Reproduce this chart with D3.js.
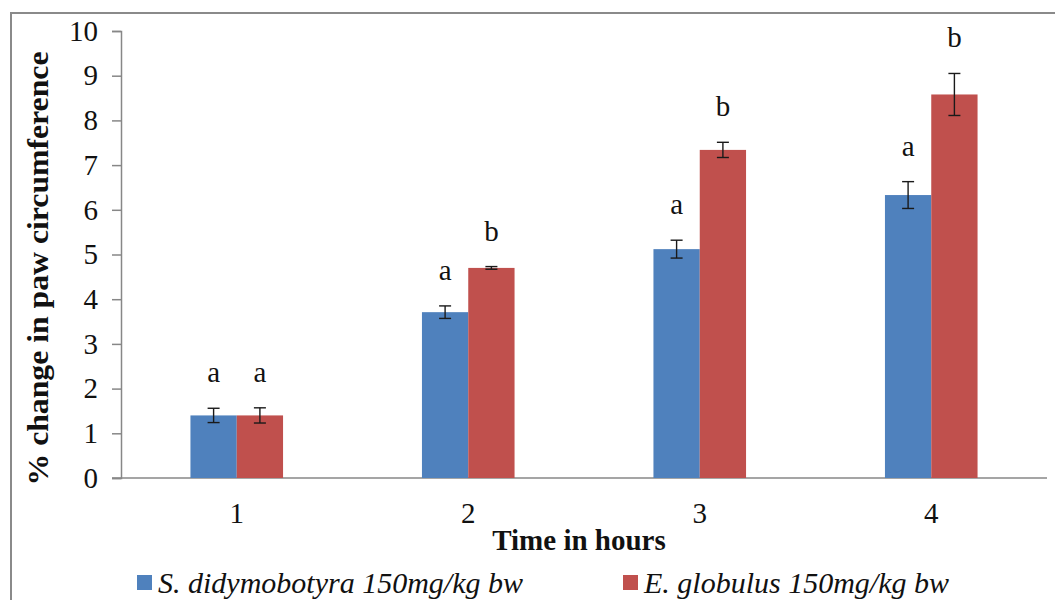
<!DOCTYPE html>
<html>
<head>
<meta charset="utf-8">
<script src="https://cdn.jsdelivr.net/npm/d3@7"></script>
<style>
  body { margin: 0; background: #fff; }
</style>
</head>
<body>
<div id="chart"></div>
<script>
// chart data
const hours = ["1", "2", "3", "4"];
const seriesNames = ["S. didymobotyra 150mg/kg bw", "E. globulus 150mg/kg bw"];
const seriesColors = ["#4F81BD", "#C0504D"];
const sdValues = [1.4, 3.71, 5.12, 6.33];
const sdErrors = [0.16, 0.14, 0.2, 0.3];
const sdLetters = ["a", "a", "a", "a"];
const egValues = [1.4, 4.7, 7.34, 8.58];
const egErrors = [0.17, 0.03, 0.17, 0.47];
const egLetters = ["a", "b", "b", "b"];
const yTicks = [0, 1, 2, 3, 4, 5, 6, 7, 8, 9, 10];

const serif = "'Liberation Serif', 'Times New Roman', serif";
const width = 1055, height = 600;
const margin = { top: 31, right: 8, bottom: 122, left: 121 };

const svg = d3.select("#chart").append("svg")
    .attr("width", width)
    .attr("height", height);

// outer frame (cut at right and bottom like the picture)
svg.append("rect")
    .attr("x", 11).attr("y", 13)
    .attr("width", width + 20).attr("height", height + 20)
    .attr("fill", "none")
    .attr("stroke", "#8a8a8a")
    .attr("stroke-width", 2);

const x0 = d3.scaleBand()
    .domain(hours)
    .range([margin.left, width - margin.right])
    .paddingInner(0.6)
    .paddingOuter(0.3);

const x1 = d3.scaleBand()
    .domain([0, 1])
    .range([0, x0.bandwidth()]);

const y = d3.scaleLinear()
    .domain([0, 10])
    .range([height - margin.bottom, margin.top]);

const rows = hours.map((h, i) => ({
    hour: h,
    bars: [
        { s: 0, v: sdValues[i], e: sdErrors[i], l: sdLetters[i] },
        { s: 1, v: egValues[i], e: egErrors[i], l: egLetters[i] }
    ]
}));

// y axis
const yAxis = svg.append("g")
    .attr("transform", `translate(${margin.left},0)`)
    .call(d3.axisLeft(y).tickValues(yTicks).tickSize(9).tickPadding(14).tickFormat(d3.format("d")));
yAxis.select(".domain").attr("stroke", "#878787").attr("stroke-width", 1.5);
yAxis.selectAll(".tick line").attr("stroke", "#878787").attr("stroke-width", 1.5);
yAxis.selectAll(".tick text")
    .style("font-family", serif)
    .style("font-size", "29px")
    .attr("fill", "#111");

// x axis baseline
svg.append("line")
    .attr("x1", margin.left - 9).attr("x2", width - margin.right)
    .attr("y1", y(0)).attr("y2", y(0))
    .attr("stroke", "#878787")
    .attr("stroke-width", 1.5);

// x tick labels
svg.append("g").selectAll("text")
    .data(hours)
    .join("text")
    .attr("x", d => x0(d) + x0.bandwidth() / 2)
    .attr("y", y(0) + 45)
    .attr("text-anchor", "middle")
    .style("font-family", serif)
    .style("font-size", "29px")
    .attr("fill", "#111")
    .text(d => d);

// bars
const groups = svg.append("g").selectAll("g")
    .data(rows)
    .join("g")
    .attr("transform", d => `translate(${x0(d.hour)},0)`);

groups.selectAll("rect")
    .data(d => d.bars)
    .join("rect")
    .attr("x", d => x1(d.s))
    .attr("width", x1.bandwidth())
    .attr("y", d => y(d.v))
    .attr("height", d => y(0) - y(d.v))
    .attr("fill", d => seriesColors[d.s]);

// error bars
const cap = 6;
const eb = groups.selectAll("g.err")
    .data(d => d.bars)
    .join("g")
    .attr("class", "err")
    .attr("stroke", "#1a1a1a")
    .attr("stroke-width", 1.4);
eb.append("line")
    .attr("x1", d => x1(d.s) + x1.bandwidth() / 2)
    .attr("x2", d => x1(d.s) + x1.bandwidth() / 2)
    .attr("y1", d => y(d.v + d.e))
    .attr("y2", d => y(d.v - d.e));
eb.append("line")
    .attr("x1", d => x1(d.s) + x1.bandwidth() / 2 - cap)
    .attr("x2", d => x1(d.s) + x1.bandwidth() / 2 + cap)
    .attr("y1", d => y(d.v + d.e))
    .attr("y2", d => y(d.v + d.e));
eb.append("line")
    .attr("x1", d => x1(d.s) + x1.bandwidth() / 2 - cap)
    .attr("x2", d => x1(d.s) + x1.bandwidth() / 2 + cap)
    .attr("y1", d => y(d.v - d.e))
    .attr("y2", d => y(d.v - d.e));

// significance letters
groups.selectAll("text.sig")
    .data(d => d.bars)
    .join("text")
    .attr("class", "sig")
    .attr("x", d => x1(d.s) + x1.bandwidth() / 2)
    .attr("y", d => y(d.v + d.e) - 26)
    .attr("text-anchor", "middle")
    .style("font-family", serif)
    .style("font-size", "29px")
    .attr("fill", "#111")
    .text(d => d.l);

// axis titles
svg.append("text")
    .attr("transform", `translate(48,${(y(0) + y(10)) / 2 + 14}) rotate(-90)`)
    .attr("text-anchor", "middle")
    .attr("textLength", 434)
    .attr("lengthAdjust", "spacingAndGlyphs")
    .style("font-family", serif)
    .style("font-size", "29px")
    .style("font-weight", "bold")
    .attr("fill", "#111")
    .text("% change in paw circumference");

svg.append("text")
    .attr("x", 579)
    .attr("y", 550)
    .attr("text-anchor", "middle")
    .style("font-family", serif)
    .style("font-size", "29px")
    .style("font-weight", "bold")
    .attr("fill", "#111")
    .text("Time in hours");

// legend
const legendX = [137, 623];
const legend = svg.append("g").selectAll("g")
    .data(seriesNames)
    .join("g")
    .attr("transform", (d, i) => `translate(${legendX[i]},575)`);
legend.append("rect")
    .attr("width", 15).attr("height", 15)
    .attr("fill", (d, i) => seriesColors[i]);
legend.append("text")
    .attr("x", 21)
    .attr("y", 18)
    .style("font-family", serif)
    .style("font-size", "30px")
    .style("font-style", "italic")
    .attr("fill", "#111")
    .text(d => d);
</script>
</body>
</html>
